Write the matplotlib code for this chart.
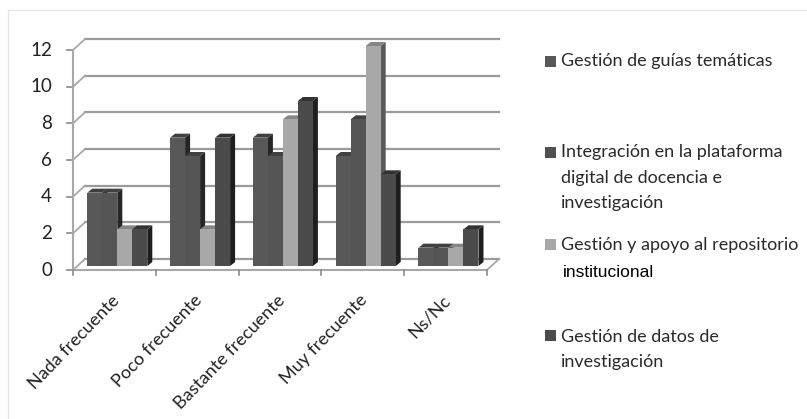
import matplotlib
matplotlib.use("Agg")
import matplotlib.pyplot as plt
import numpy as np
from matplotlib.lines import Line2D
from matplotlib.patches import Rectangle

# datos
categorias = ["Nada frecuente", "Poco frecuente", "Bastante frecuente", "Muy frecuente", "Ns/Nc"]
guias = [4, 7, 7, 6, 1]
integracion = [4, 6, 6, 8, 1]
repositorio = [2, 2, 8, 12, 1]
datos = [2, 7, 9, 5, 2]
ticks_y = [0, 2, 4, 6, 8, 10, 12]

W, H = 807, 419
plt.rcParams['font.family'] = ['Lato', 'DejaVu Sans']

fig = plt.figure(figsize=(W / 100, H / 100), dpi=100, facecolor='white')
# eje frontal: x 73..487 px, y 270 (0) .. 50 (12) px
ax = fig.add_axes([73 / W, 1 - 270 / H, 414 / W, 220 / H])
ax.set_xlim(0, 5)
ax.set_ylim(0, 12)
ax.axis('off')

px = 5 / 414.0  # unidades x por pixel
py = 12 / 220.0  # unidades y por pixel
prof_x, prof_y = 12 * px, 11 * py  # profundidad de la pared
bar_w = 15 * px
dx_bar, dy_bar = 5 * px, 4 * py  # fondo de la barra
base_y = 4 * py

GRID = '#a8a8a8'
for t in ticks_y:
    ax.plot([prof_x, 5 + prof_x], [t + prof_y, t + prof_y], color='#9a9a9a', lw=1.6, clip_on=False, zorder=1)
    ax.plot([0, prof_x], [t, t + prof_y], color=GRID, lw=1.3, clip_on=False, zorder=1)
    ax.plot([-6 * px, 0], [t, t], color='#8a8a8a', lw=1.2, clip_on=False, zorder=1)
    ax.text(-21 * px, t, str(t), ha='right', va='center', fontsize=13.5, color='#222222', clip_on=False)

ax.plot([0, 0], [0, 12], color=GRID, lw=1.5, clip_on=False, zorder=1)
ax.plot([0, 5], [0, 0], color=GRID, lw=1.5, clip_on=False, zorder=1)
ax.plot([5, 5 + prof_x], [0, prof_y], color=GRID, lw=1.3, clip_on=False, zorder=1)
for i in range(6):
    ax.plot([i, i], [0, -5 * py], color='#8a8a8a', lw=1.2, clip_on=False, zorder=1)

series = [guias, integracion, repositorio, datos]
frente = ['#585858', '#555555', '#a8a8a8', '#4b4b4b']
lado = ['#262626', '#262626', '#5a5a5a', '#1e1e1e']
tapa = ['#404040', '#404040', '#858585', '#333333']

# cada barra tapa el lado de la anterior, se dibujan de izquierda a derecha
centros = np.arange(5) + 0.535
for k in range(4):
    x = centros + (k - 2) * bar_w
    for xi, v in zip(x, series[k]):
        top = v + base_y
        ax.fill([xi + bar_w, xi + bar_w + dx_bar, xi + bar_w + dx_bar, xi + bar_w],
                [base_y, base_y + dy_bar, top + dy_bar, top], color=lado[k], lw=0,
                zorder=3 + k, clip_on=False)
        ax.fill([xi, xi + dx_bar, xi + bar_w + dx_bar, xi + bar_w],
                [top, top + dy_bar, top + dy_bar, top], color=tapa[k], lw=0,
                zorder=3 + k, clip_on=False)
    ax.bar(x, series[k], width=bar_w, bottom=base_y, align='edge', color=frente[k], lw=0,
           zorder=3.5 + k, clip_on=False)

for i, c in enumerate(categorias):
    ax.text(i + 0.455, -22 * py, c, rotation=46, rotation_mode='anchor', ha='right', va='top',
            fontsize=13, color='#222222', clip_on=False)

# leyenda
ley_color = ['#585858', '#505050', '#a8a8a8', '#4b4b4b']
ley_cuadro = [61.5, 152.5, 244.5, 335.5]
ley_texto = [
    (61, "Gestión de guías temáticas"),
    (152, "Integración en la plataforma"),
    (178, "digital de docencia e"),
    (203, "investigación"),
    (245, "Gestión y apoyo al repositorio"),
    (337, "Gestión de datos de"),
    (362, "investigación"),
]
for col, y in zip(ley_color, ley_cuadro):
    fig.add_artist(Rectangle((545 / W, 1 - (y + 5.5) / H), 11 / W, 11 / H, transform=fig.transFigure,
                             color=col, lw=0))
for y, s in ley_texto:
    fig.text(561 / W, 1 - y / H, s, fontsize=13, color='#2a2a2a', va='center', ha='left')
fig.text(563 / W, 1 - 272 / H, "institucional", fontsize=12.5, color='black', va='center', ha='left',
         family='Liberation Sans')

# marco de la imagen: solo arriba y a la izquierda
fig.add_artist(Line2D([8 / W, 8 / W, 1], [0, 1 - 10 / H, 1 - 10 / H], transform=fig.transFigure,
                      color='#e6e6e6', lw=1.0))

fig.savefig("out.png", dpi=100, facecolor='white')
